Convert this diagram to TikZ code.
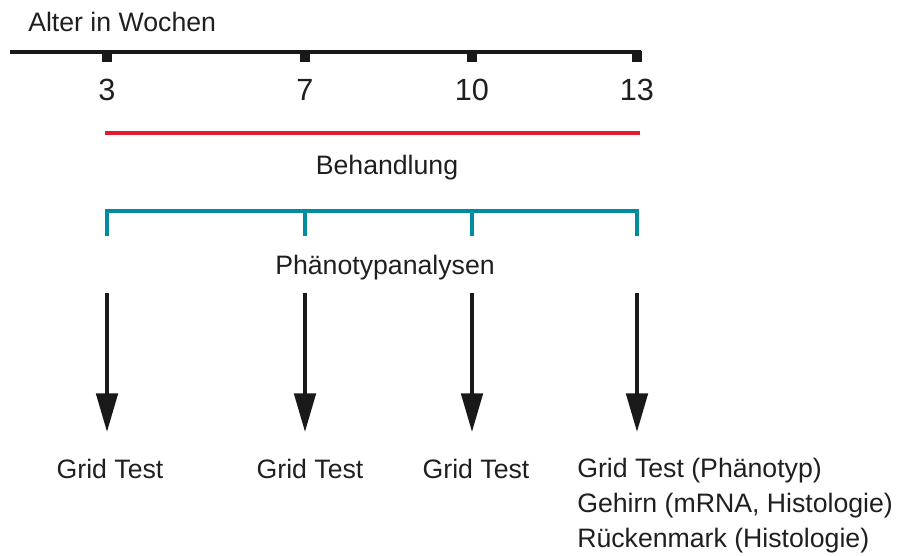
\documentclass[tikz,border=0pt]{standalone}
\usepackage{fontspec}
\setmainfont{Liberation Sans}
\usetikzlibrary{arrows.meta,positioning}
\definecolor{rot}{RGB}{226,27,45}
\definecolor{petrol}{RGB}{0,139,160}

\begin{document}
\begin{tikzpicture}[x=0.75pt, y=-0.75pt,
		txt/.style={font=\fontsize{20}{24}\selectfont, text=black!88, inner sep=0pt, anchor=base},
		num/.style={font=\fontsize{23}{27}\selectfont, text=black!88, inner sep=0pt, anchor=base},
		achse/.style={line width=3.3pt, black!90},
		strich/.style={line width=6.8pt, black!90},
		klammer/.style={line width=3pt, petrol},
		pfeil/.style={line width=3pt, black!90, -{Triangle[width=16pt,length=29pt]}}]
		\useasboundingbox (0,0) rectangle (897,556);

		% Zeitachse
		\node[txt, anchor=base west] (titel) at (28,32) {Alter in Wochen};
		\coordinate (a0) at (10,52);
		\coordinate (a13) at (641,52);
		\draw[achse] (a0) -- (a13);
		\draw[strich] (107,51) -- (107,62);
		\draw[strich] (305,51) -- (305,62);
		\draw[strich] (472,51) -- (472,62);
		\draw[strich] (637,51) -- (637,62);
		\node[num] (3) at (107,101) {3};
		\node[num] (7) at (305,101) {7};
		\node[num] (10) at (472,101) {10};
		\node[num] (13) at (637,101) {13};

		% Behandlung
		\coordinate (b1) at (105,133);
		\coordinate (b2) at (640,133);
		\draw[line width=3pt, rot] (b1) -- (b2);
		\node[txt] (beh) at (387,175) {Behandlung};

		% Phaenotypanalysen
		\draw[klammer] (107,236) -- (107,211) -- (637,211) -- (637,236);
		\draw[klammer] (305,211) -- (305,236);
		\draw[klammer] (472,211) -- (472,236);
		\node[txt] (phae) at (385,275) {Phänotypanalysen};

		% Pfeile
		\coordinate (o1) at (107,293); \coordinate (u1) at (107,432);
		\coordinate (o2) at (305,293); \coordinate (u2) at (305,432);
		\coordinate (o3) at (472,293); \coordinate (u3) at (472,432);
		\coordinate (o4) at (637,293); \coordinate (u4) at (637,432);
		\draw[pfeil] (o1) -- (u1);
		\draw[pfeil] (o2) -- (u2);
		\draw[pfeil] (o3) -- (u3);
		\draw[pfeil] (o4) -- (u4);

		\node[txt] (g1) at (110,478) {Grid Test};
		\node[txt] (g2) at (310,478) {Grid Test};
		\node[txt] (g3) at (476,478) {Grid Test};
		\node[txt, anchor=base west] (g4) at (577,477) {Grid Test (Phänotyp)};
		\node[txt, anchor=base west] (hirn) at (577,512) {Gehirn (mRNA, Histologie)};
		\node[txt, anchor=base west] (rm) at (577,547) {Rückenmark (Histologie)};
	\end{tikzpicture}
\end{document}
